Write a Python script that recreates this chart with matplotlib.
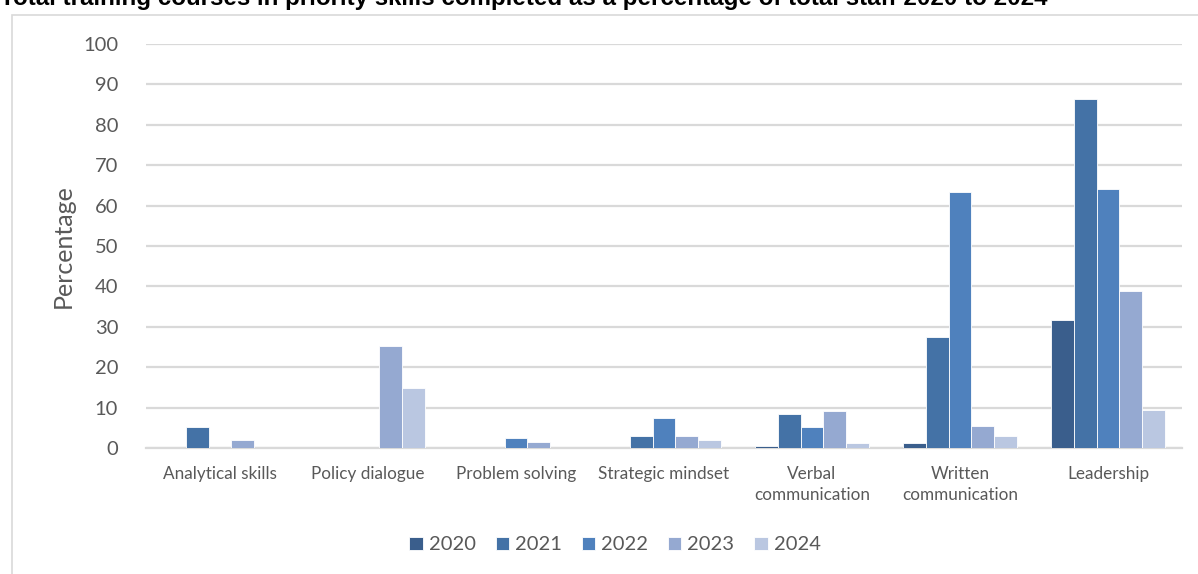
import matplotlib
matplotlib.use("Agg")
import matplotlib.pyplot as plt
import numpy as np
from matplotlib.patches import Rectangle

categories = ["Analytical skills", "Policy dialogue", "Problem solving", "Strategic mindset",
              "Verbal\ncommunication", "Written\ncommunication", "Leadership"]
years = ["2020", "2021", "2022", "2023", "2024"]
v2020 = [0, 0, 0, 0, 0.5, 1.2, 31.8]
v2021 = [5.1, 0, 0, 3.0, 8.5, 27.4, 86.3]
v2022 = [0, 0, 2.5, 7.5, 5.1, 63.4, 64.0]
v2023 = [2.0, 25.3, 1.5, 3.0, 9.1, 5.5, 38.8]
v2024 = [0, 14.9, 0, 2.0, 1.2, 3.0, 9.5]
series = [v2020, v2021, v2022, v2023, v2024]
colors = ["#3A5E8C", "#4472A6", "#4F81BD", "#95A9D1", "#BAC7E1"]

plt.rcParams['font.family'] = ['Lato', 'DejaVu Sans']

fig = plt.figure(figsize=(11.98, 5.74), dpi=100)
ax = fig.add_axes([146/1198, 1-448/574, (1182-146)/1198, (448-44)/574])

x = np.arange(len(categories))
bw = 0.155
for i, (vals, c, yr) in enumerate(zip(series, colors, years)):
    ax.bar(x + (i-2)*bw, vals, width=bw, color=c, edgecolor='white', linewidth=0.6, label=yr, zorder=3)

ax.set_ylim(0, 100)
ax.set_xlim(-0.5, len(categories)-0.5)
ax.set_yticks(range(0, 101, 10))
ax.yaxis.grid(True, color='#D9D9D9', linewidth=1.6, zorder=0)
ax.set_axisbelow(True)
for s in ['top', 'right', 'left']:
    ax.spines[s].set_visible(False)
ax.spines['bottom'].set_color('#D9D9D9')
ax.spines['bottom'].set_linewidth(1.6)
ax.tick_params(axis='y', length=0, labelsize=14.5, labelcolor='#595959', pad=20)
ax.tick_params(axis='x', length=0, labelsize=12.3, labelcolor='#595959', pad=13)
ax.set_xticks(x)
ax.set_xticklabels(categories, linespacing=1.35)
ax.set_ylabel("Percentage", fontsize=18, color='#595959', labelpad=6)

leg = fig.legend(loc='center', bbox_to_anchor=(615/1198, 1-545/574), ncol=5, frameon=False,
                 fontsize=14.5, handlelength=0.65, handleheight=0.65, handletextpad=0.3,
                 columnspacing=1.0, labelcolor='#595959')

# chart border
fig.patches.append(Rectangle((12/1198, -0.05), 1.2, 1-15/574+0.05, transform=fig.transFigure,
                             fill=False, edgecolor='#D9D9D9', linewidth=1.2))

fig.text(0.0, 1-5/574, "Total training courses in priority skills completed as a percentage of total staff 2020 to 2024",
         fontsize=17.4, fontweight='bold', family='Liberation Sans', va='baseline', ha='left')

fig.savefig("out.png", dpi=100)
